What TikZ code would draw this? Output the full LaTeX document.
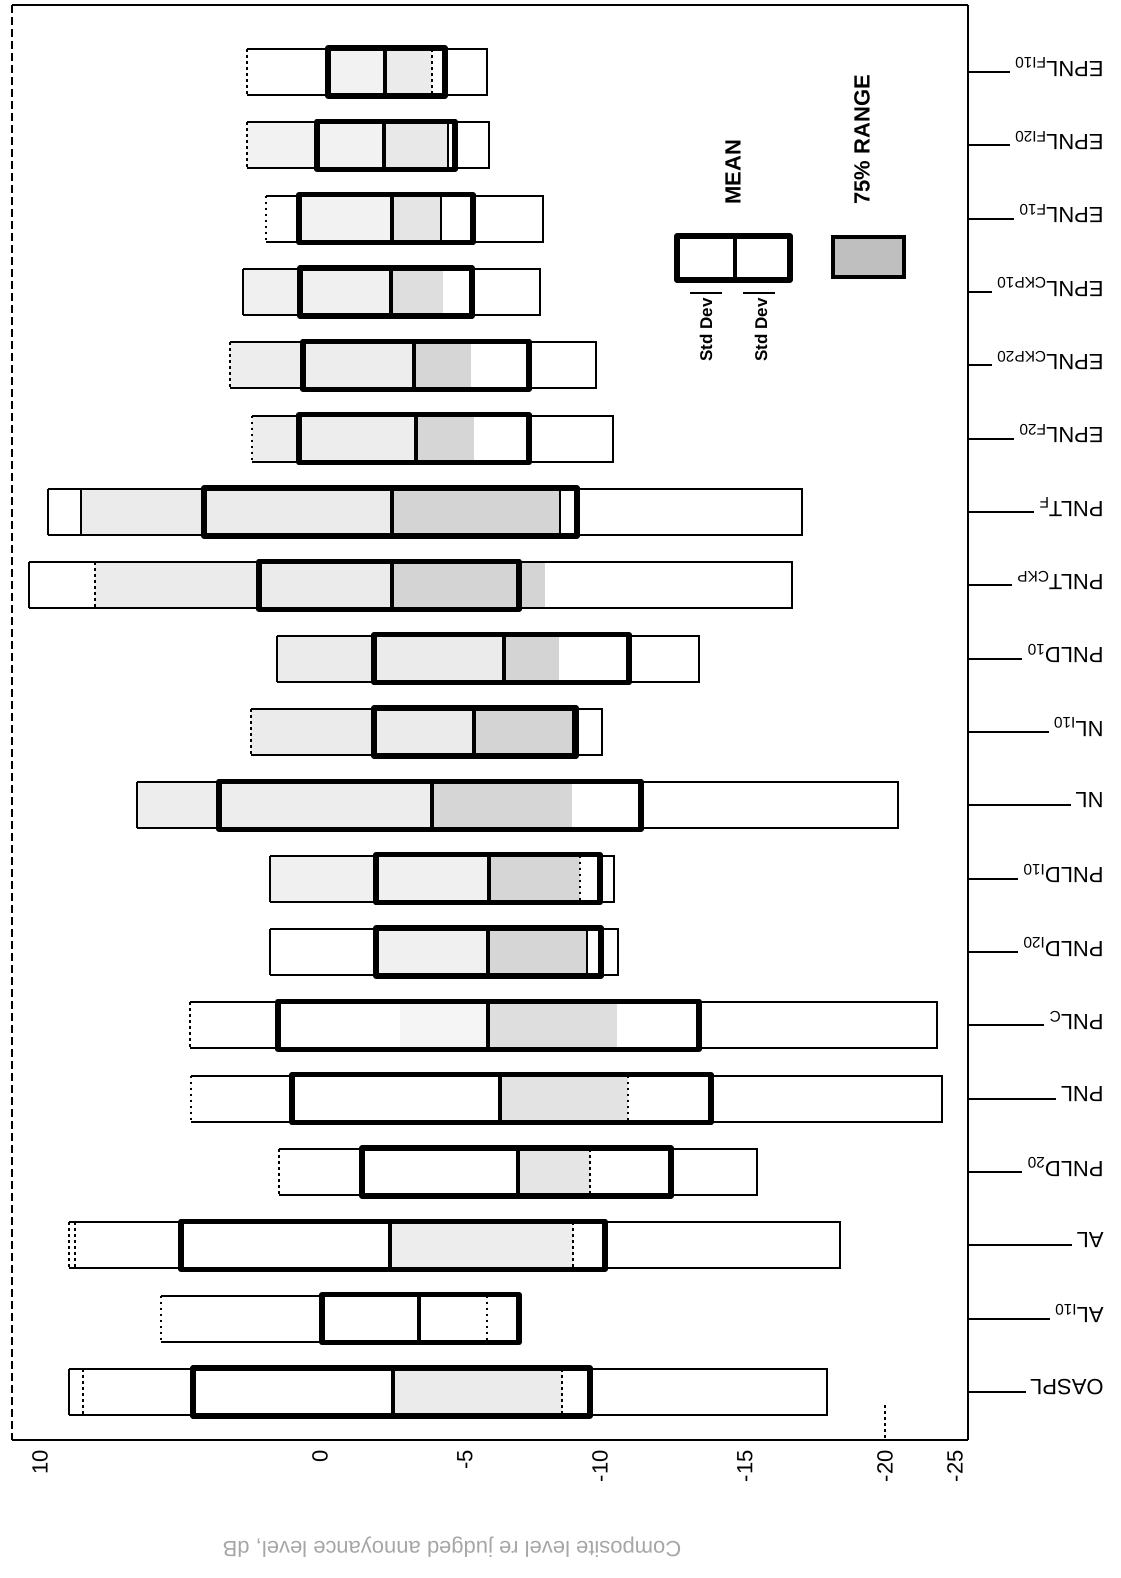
\documentclass[tikz,border=0pt]{standalone}
\usepackage{fontspec}
\setmainfont{Liberation Sans}
\begin{document}
\begin{tikzpicture}[x=0.5pt,y=-0.5pt,
  thin edge/.style={line width=1pt},
  dot edge/.style={line width=1.3pt, dash pattern=on 1.3pt off 1.7pt},
  sd box/.style={line width=2.6pt, line join=round},
  mean line/.style={line width=2.4pt},
  lbl/.style={font=\fontsize{11}{13}\selectfont, rotate=180, anchor=west, inner sep=2pt},
  tick lbl/.style={font=\fontsize{11}{13}\selectfont, rotate=90, anchor=east, inner sep=1pt},
  leg/.style={font=\bfseries\fontsize{11}{13}\selectfont, rotate=90, inner sep=0pt},
  frame/.style={line width=1.2pt}]
\useasboundingbox (0,0) rectangle (1120,1578);

% frame
\draw[frame] (12,5) -- (968,5);
\draw[line width=1pt, dash pattern=on 4pt off 2pt] (12,5) -- (12,1440);
\draw[line width=1.4pt] (968,5) -- (968,1440);
\draw[line width=1.4pt] (12,1440) -- (968,1440);
\draw[dot edge] (885,1405) -- (885,1440);

% bars
\foreach \i/\L/\SL/\M/\SR/\R/\A/\B/\ls/\bs/\lt/\dk in {
1/247/328/385/445/487/328/432/1/1/gray!10/gray!16,
2/247/317/384/455/489/247/448/1/0/gray!10/gray!18,
3/266/299/392/473/543/299/441/1/0/gray!10/gray!20,
4/243/300/391/472/540/243/443/0/2/gray!12/gray!26,
5/230/303/414/529/596/230/471/1/2/gray!14/gray!32,
6/252/299/416/529/613/252/474/1/2/gray!14/gray!32,
7/48/204/392/577/802/81/560/0/0/gray!16/gray!34,
8/29/259/392/519/792/95/545/0/2/gray!16/gray!34,
9/277/374/504/629/699/277/559/0/2/gray!16/gray!34,
10/251/374/474/576/602/251/573/1/0/gray!16/gray!34,
11/137/219/432/641/898/137/572/0/2/gray!14/gray!32,
12/270/376/489/600/614/270/580/0/1/gray!12/gray!32,
13/270/376/488/601/618/376/587/0/0/gray!12/gray!32,
14/190/278/488/699/937/400/617/1/2/gray!8/gray!26,
15/191/292/500/711/942/500/628/1/1/gray!8/gray!22,
16/279/362/518/671/757/518/590/1/1/gray!8/gray!20,
17/69/181/390/605/840/390/573/1/1/gray!6/gray!14,
18/161/322/419/519/519/419/487/1/1/white/white,
19/69/193/393/590/827/393/562/0/1/gray!6/gray!16}{
  \pgfmathsetmacro\yc{72+73.33*(\i-1)}
  \pgfmathsetmacro\yt{\yc-23}
  \pgfmathsetmacro\yb{\yc+23}
  \path[fill=\lt] (\A,\yt) rectangle (\M,\yb);
  \path[fill=\dk] (\M,\yt) rectangle (\B,\yb);
  \draw[thin edge] (\L,\yt) -- (\R,\yt) -- (\R,\yb) -- (\L,\yb);
  \ifcase\ls \draw[thin edge] (\L,\yt) -- (\L,\yb); \or \draw[dot edge] (\L,\yt) -- (\L,\yb); \fi
  \ifcase\bs \draw[thin edge] (\B,\yt) -- (\B,\yb); \or \draw[dot edge] (\B,\yt) -- (\B,\yb); \or \fi
  \draw[sd box] (\SL,{\yt-1}) rectangle (\SR,{\yb+1});
  \draw[mean line] (\M,\yt) -- (\M,\yb);
}
% extra inner lines
\draw[thin edge] (81,{72+73.33*6-23}) -- (81,{72+73.33*6+23});
\draw[dot edge] (95,{72+73.33*7-23}) -- (95,{72+73.33*7+23});
\draw[dot edge] (75,{72+73.33*16-23}) -- (75,{72+73.33*16+23});
\draw[dot edge] (83,{72+73.33*18-23}) -- (83,{72+73.33*18+23});

% category labels
\foreach \i/\txt in {
1/{EPNL\textsubscript{FI10}},
2/{EPNL\textsubscript{FI20}},
3/{EPNL\textsubscript{F10}},
4/{EPNL\textsubscript{CKP10}},
5/{EPNL\textsubscript{CKP20}},
6/{EPNL\textsubscript{F20}},
7/{PNLT\textsubscript{F}},
8/{PNLT\textsubscript{CKP}},
9/{PNLD\textsubscript{10}},
10/{NL\textsubscript{I10}},
11/{NL},
12/{PNLD\textsubscript{I10}},
13/{PNLD\textsubscript{I20}},
14/{PNL\textsubscript{C}},
15/{PNL},
16/{PNLD\textsubscript{20}},
17/{AL},
18/{AL\textsubscript{I10}},
19/{OASPL}}{
  \pgfmathsetmacro\yc{72+73.33*(\i-1)}
  \node[lbl] (lab\i) at (1108,{\yc-5}) {\txt};
  \coordinate (tk\i) at (968,\yc);
  \draw[thin edge] (tk\i) -- (lab\i.east |- tk\i);
}

% legend
\draw[sd box] (677,236) rectangle (790,280);
\draw[mean line] (735,236) -- (735,280);
\draw[thin edge] (690,293) -- (722,293);
\draw[thin edge] (743,293) -- (775,293);
\node[leg, font=\bfseries\fontsize{8.5}{10}\selectfont, anchor=east] (sd1) at (706,298) {Std Dev};
\node[leg, font=\bfseries\fontsize{8.5}{10}\selectfont, anchor=east] (sd2) at (761,298) {Std Dev};
\node[leg, anchor=west] (mean) at (733,205) {MEAN};
\draw[fill=gray!50, line width=1.6pt] (833,237) rectangle (904,277);
\node[leg, anchor=west] (range) at (862,205) {75\% RANGE};

% axis tick labels
\foreach \x/\t in {40/10, 320/0, 465/-5, 600/-10, 745/-15, 885/-20, 955/-25}{
  \node[tick lbl] (ax\x) at (\x,1448) {\t};
}
\node[font=\fontsize{11}{13}\selectfont, text=gray!70, rotate=180] (title) at (452,1547) {Composite level re judged annoyance level, dB};
\end{tikzpicture}
\end{document}
